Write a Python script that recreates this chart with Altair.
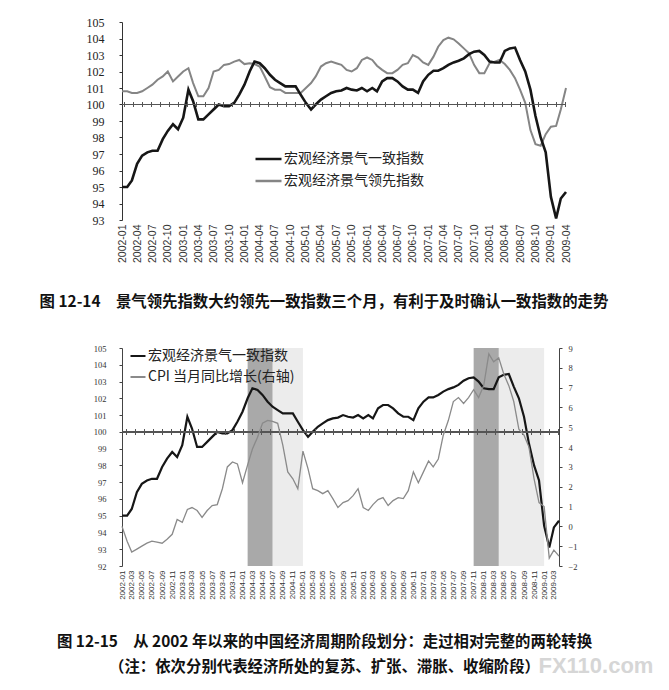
import altair as alt
import pandas as pd

# ---------------- data ----------------
months = [f"{y}-{m:02d}" for y in range(2002, 2010) for m in range(1, 13)][:88]

coincident = [
    95.0, 95.0, 95.4, 96.4, 96.9, 97.1, 97.2, 97.2, 97.9, 98.4, 98.8, 98.5,
    99.2, 100.9, 100.2, 99.1, 99.1, 99.4, 99.7, 100.0, 99.9, 99.9, 100.1, 100.6,
    101.2, 102.0, 102.6, 102.5, 102.2, 101.8, 101.5, 101.3, 101.1, 101.1, 101.1, 100.6,
    100.1, 99.7, 100.0, 100.3, 100.5, 100.7, 100.8, 100.85, 101.0, 100.9, 100.85, 101.0,
    100.8, 101.0, 100.8, 101.4, 101.6, 101.6, 101.4, 101.1, 100.9, 100.9, 100.7, 101.4,
    101.8, 102.05, 102.05, 102.2, 102.4, 102.55, 102.65, 102.8, 103.05, 103.2, 103.25, 103.0,
    102.6, 102.55, 102.55, 103.25, 103.4, 103.45, 102.7, 102.0, 100.9, 99.3, 98.0, 97.1,
    94.4, 93.1, 94.3, 94.7,
]

leading = [
    100.8, 100.8, 100.7, 100.7, 100.8, 101.0, 101.2, 101.5, 101.7, 102.0, 101.4, 101.7,
    102.0, 102.2, 101.3, 100.5, 100.5, 101.0, 102.0, 102.1, 102.4, 102.45, 102.6, 102.7,
    102.45, 102.5, 102.45, 102.3, 101.7, 101.05, 100.9, 100.9, 100.7, 100.7, 100.7, 100.7,
    101.0, 101.3, 101.7, 102.3, 102.5, 102.6, 102.5, 102.4, 102.1, 102.0, 102.2, 102.7,
    102.85, 102.7, 102.35, 102.1, 101.9, 101.9, 102.1, 102.4, 102.5, 103.0, 102.85, 102.55,
    102.4, 102.9, 103.5, 103.9, 104.05, 103.95, 103.7, 103.4, 103.1, 102.4, 101.9, 101.9,
    102.5, 102.6, 102.7, 102.45, 102.1, 101.6, 100.9, 100.1, 98.45, 97.6, 97.5, 98.2,
    98.65, 98.7, 99.7, 101.0,
]

cpi = [
    0.0, -0.75, -1.3, -1.15, -1.0, -0.85, -0.75, -0.8, -0.85, -0.65, -0.4, 0.35,
    0.2, 0.85, 0.95, 0.8, 0.45, 0.8, 1.05, 1.1, 1.9, 3.0, 3.25, 3.15,
    2.2, 3.1, 3.9, 4.5, 5.2, 5.35, 5.3, 5.2, 4.1, 2.75, 2.4, 1.9,
    3.8, 2.9, 1.9, 1.8, 1.65, 1.8, 1.4, 0.95, 1.2, 1.3, 1.55, 1.9,
    0.95, 0.8, 1.1, 1.35, 1.45, 1.05, 1.3, 1.45, 1.4, 1.8, 2.75, 2.2,
    2.75, 3.3, 3.0, 3.4, 4.6, 5.35, 6.3, 6.5, 6.2, 6.5, 6.9, 6.5,
    7.1, 8.7, 8.3, 8.5, 7.7, 7.1, 6.3, 4.9, 4.6, 4.0, 2.4, 1.2,
    1.0, -1.6, -1.2, -1.5,
]

name_coin = "宏观经济景气一致指数"
name_lead = "宏观经济景气领先指数"
name_cpi = "CPI 当月同比增长(右轴)"

band_start = ["2004-02", "2004-07", "2007-11", "2008-04"]
band_end = ["2004-07", "2005-01", "2008-04", "2009-01"]
band_kind = ["dark", "light", "dark", "light"]

top_tick_labels = months[::3]
bottom_tick_labels = months[::2]

caption_top = "图 12-14\u2003景气领先指数大约领先一致指数三个月，有利于及时确认一致指数的走势"
caption_bottom = [
    "图 12-15\u2003从 2002 年以来的中国经济周期阶段划分：走过相对完整的两轮转换",
    "（注：依次分别代表经济所处的复苏、扩张、滞胀、收缩阶段）",
]
watermark = "FX110.com"


# ---------------- helpers ----------------
def ts(s):
    return s + "-01T00:00:00"


def dt(s):
    y, m = s.split("-")
    return alt.DateTime(year=int(y), month=int(m), date=1)


dates = [ts(m) for m in months]
df_coin = pd.DataFrame({"date": dates, "value": coincident, "series": name_coin})
df_lead = pd.DataFrame({"date": dates, "value": leading, "series": name_lead})
df_cpi = pd.DataFrame({"date": dates, "value": cpi, "series": name_cpi})
df_bands = pd.DataFrame({
    "start": [ts(s) for s in band_start],
    "end": [ts(s) for s in band_end],
    "kind": band_kind,
})

SERIF = "Liberation Serif"
CJK = "Noto Sans CJK SC"

x_domain = [dt(months[0]), dt(months[-1])]


def x_enc(field, ticks, fsize):
    return alt.X(
        f"{field}:T",
        scale=alt.Scale(domain=x_domain, nice=False),
        axis=alt.Axis(
            values=[dt(t) for t in ticks], format="%Y-%m", labelAngle=270,
            labelFont="Liberation Sans", labelFontSize=fsize, labelColor="#333",
            domain=False, ticks=False, labelPadding=4, grid=False, title=None,
            labelOverlap=False, labelBound=False, labelFlush=False,
        ),
    )


# ---------------- top chart ----------------
W1, H1 = 444, 198
scale_top = alt.Scale(domain=[93, 105], nice=False, zero=False)
axis_top = alt.Axis(
    values=list(range(93, 106)), labelFont=SERIF, labelFontSize=12,
    labelColor="#222", domainColor="#333", tickColor="#333", tickSize=3,
    labelPadding=15, grid=False, title=None, labelOverlap=False,
)
y_top = alt.Y("value:Q", scale=scale_top, axis=axis_top)
color_top = alt.Color(
    "series:N",
    scale=alt.Scale(domain=[name_coin, name_lead], range=["#161616", "#858585"]),
    legend=alt.Legend(
        title=None, orient="none", legendX=132, legendY=129,
        symbolType="stroke", symbolSize=676, symbolStrokeWidth=2.5,
        labelFont=CJK, labelFontSize=14, labelColor="#222", labelOffset=1,
        clipHeight=16, rowPadding=6,
    ),
)

lead_line = alt.Chart(df_lead).mark_line(strokeWidth=2.0).encode(
    x=x_enc("date", top_tick_labels, 10.5), y=y_top, color=color_top
)
coin_line = alt.Chart(df_coin).mark_line(strokeWidth=2.6).encode(
    x=x_enc("date", top_tick_labels, 10.5), y=y_top, color=color_top
)
ref_top = alt.Chart(df_coin).mark_rule(color="#555", strokeWidth=1).encode(
    y=alt.YDatum(100, scale=scale_top, axis=axis_top)
)
ref_top_ticks = alt.Chart(df_coin).mark_rule(
    color="#555", strokeWidth=5, strokeDash=[1, 8]
).encode(y=alt.YDatum(100, scale=scale_top, axis=axis_top))

top = alt.layer(lead_line, coin_line, ref_top, ref_top_ticks).properties(
    width=W1, height=H1,
    title=alt.TitleParams(
        text=caption_top, orient="bottom", anchor="middle", frame="group",
        font=CJK, fontSize=15.4, fontWeight="bold", color="#111", offset=32, dx=-20,
    ),
)

# ---------------- bottom chart ----------------
W2, H2 = 437, 218
scale_left = alt.Scale(domain=[92, 105], nice=False, zero=False)
axis_left = alt.Axis(
    orient="left", values=list(range(92, 106)), labelFont=SERIF, labelFontSize=8.5,
    labelColor="#333", domainColor="#444", tickColor="#444", tickSize=3,
    labelPadding=13, grid=False, title=None, labelOverlap=False,
)
y_left = alt.Y("value:Q", scale=scale_left, axis=axis_left)
y_right = alt.Y(
    "value:Q",
    scale=alt.Scale(domain=[-2, 9], nice=False, zero=False),
    axis=alt.Axis(
        orient="right", values=list(range(-2, 10)), labelFont=SERIF, labelFontSize=8.5,
        labelColor="#333", domainColor="#444", tickColor="#444", tickSize=3,
        labelPadding=6, grid=False, title=None, labelOverlap=False,
    ),
)
color_bottom = alt.Color(
    "series:N",
    scale=alt.Scale(domain=[name_coin, name_cpi], range=["#161616", "#8a8a8a"]),
    legend=alt.Legend(
        title=None, orient="none", legendX=7, legendY=0,
        symbolType="stroke", symbolSize=225, symbolStrokeWidth=2.2,
        labelFont=CJK, labelFontSize=14, labelColor="#222", labelOffset=1,
        clipHeight=16, rowPadding=5,
    ),
)

bands_dark = alt.Chart(df_bands).transform_filter(alt.datum.kind == "dark").mark_rect(
    color="#a9a9a9"
).encode(x=x_enc("start", bottom_tick_labels, 8), x2="end:T")
bands_light = alt.Chart(df_bands).transform_filter(alt.datum.kind == "light").mark_rect(
    color="#ececec"
).encode(x=x_enc("start", bottom_tick_labels, 8), x2="end:T")

coin_b = alt.Chart(df_coin).mark_line(strokeWidth=2.2).encode(
    x=x_enc("date", bottom_tick_labels, 8), y=y_left, color=color_bottom
)
ref_b = alt.Chart(df_coin).mark_rule(color="#555", strokeWidth=1).encode(
    y=alt.YDatum(100, scale=scale_left, axis=axis_left)
)
ref_b_ticks = alt.Chart(df_coin).mark_rule(
    color="#555", strokeWidth=5, strokeDash=[1, 8]
).encode(y=alt.YDatum(100, scale=scale_left, axis=axis_left))
left_layer = alt.layer(coin_b, ref_b, ref_b_ticks)
cpi_b = alt.Chart(df_cpi).mark_line(strokeWidth=1.3).encode(
    x=x_enc("date", bottom_tick_labels, 8), y=y_right, color=color_bottom
)

bottom = alt.layer(bands_light, bands_dark, left_layer, cpi_b).resolve_scale(
    y="independent"
).properties(
    width=W2, height=H2,
    title=alt.TitleParams(
        text=caption_bottom, orient="bottom", anchor="middle", frame="group",
        font=CJK, fontSize=15.4, fontWeight="bold", color="#111", offset=36, dx=-16,
        lineHeight=25,
    ),
)

chart = alt.vconcat(top, bottom, spacing=128, bounds="flush").resolve_scale(
    color="independent", x="independent"
).resolve_legend(color="independent").properties(
    padding={"left": 31, "top": 8, "right": 0, "bottom": 0},
    background="white",
    title=alt.TitleParams(
        text=watermark, orient="bottom", anchor="end", offset=-20, dx=45,
        font="Liberation Sans", fontSize=22, fontWeight="bold", color="#d6d6d6",
    ),
).configure_view(stroke=None).configure_axis(labelOverlap=False)

chart.save("out.html", embed_options={"renderer": "svg", "actions": False})
